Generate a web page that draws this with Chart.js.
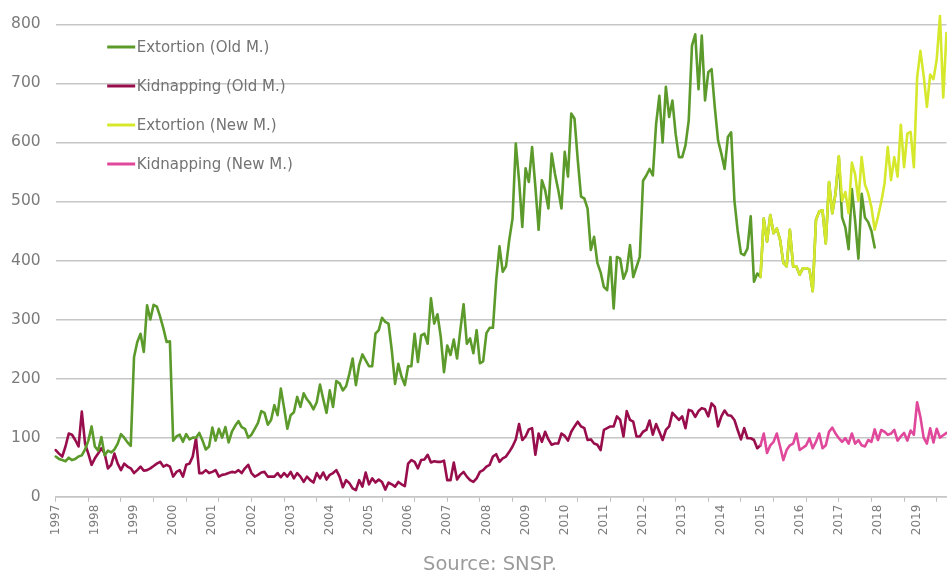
<!DOCTYPE html>
<html>
<head>
<meta charset="utf-8">
<script src="https://cdn.jsdelivr.net/npm/chart.js@4/dist/chart.umd.min.js"></script>
<style>
  html, body { margin: 0; padding: 0; background: #ffffff; }
  #wrap { position: relative; width: 947px; height: 575px; }
</style>
</head>
<body>
<div id="wrap"><canvas id="c" width="947" height="575"></canvas></div>
<script>
// ---------- DATA ----------
const years = ['1997','1998','1999','2000','2001','2002','2003','2004','2005','2006','2007','2008',
               '2009','2010','2011','2012','2013','2014','2015','2016','2017','2018','2019'];
const lastMonth = '2019-10';
const newMethodStart = '2015-01';

const seriesLabels = ['Extortion (Old M.)', 'Kidnapping (Old M.)', 'Extortion (New M.)', 'Kidnapping (New M.)'];

// Monthly values, Jan 1997 onwards
const extortionOld = [
  68,64,62,60,66,62,64,68,70,80,95,119,
  85,78,101,70,78,75,80,90,106,100,92,86,
  236,262,276,245,324,300,325,322,305,285,262,263,
  95,102,105,93,106,97,100,100,108,95,80,85,
  117,95,115,100,118,92,110,120,128,118,115,100,
  105,115,125,145,142,122,130,155,138,183,150,115,
  138,143,169,152,175,165,158,148,160,190,165,142,
  180,152,196,192,180,187,208,234,189,223,241,231,
  221,221,276,282,303,296,293,248,191,225,203,189,
  221,221,276,228,273,276,259,336,293,309,271,211,
  256,240,266,234,282,326,259,268,243,282,226,229,
  277,286,286,367,424,381,390,435,471,598,536,457,
  556,533,592,525,452,536,519,488,581,547,520,488,
  584,542,649,640,570,508,505,488,418,440,396,380,
  355,350,406,319,406,403,369,383,426,372,389,406,
  535,544,555,544,631,679,600,694,643,671,614,575,
  575,595,637,764,783,690,781,671,719,724,659,603,
  581,555,609,617,502,450,412,409,420,475,364,378,
  372,471,432,477,446,454,435,396,390,452,390,390,
  376,387,387,385,348,469,483,485,429,533,480,514,
  575,473,456,419,521,467,403,513,473,465,450,422
];

const kidnappingOld = [
  79,73,68,85,107,105,96,85,144,90,73,54,
  65,73,82,73,48,54,73,56,45,56,51,48,
  40,45,51,44,45,48,52,56,59,51,54,51,
  34,42,45,34,54,56,68,99,40,40,45,40,
  42,45,34,37,38,40,42,41,45,40,48,54,
  40,34,37,41,42,34,34,34,40,33,40,34,
  42,31,40,34,25,34,28,24,40,31,41,29,
  37,40,45,34,16,28,23,14,11,28,17,41,
  21,31,24,29,25,12,24,21,17,25,21,18,
  56,62,59,48,62,63,71,58,60,59,59,61,
  28,28,58,29,37,42,34,28,25,31,42,45,
  51,54,68,72,59,65,68,76,85,97,123,96,
  102,114,116,71,107,93,110,97,88,90,90,107,
  103,95,110,119,127,119,116,96,97,90,88,79,
  113,116,119,119,136,130,102,145,130,127,102,102,
  110,113,129,105,123,110,96,113,119,142,136,130,
  136,116,147,145,135,145,150,148,136,158,152,119,
  136,146,138,137,130,113,97,116,99,99,96,82,
  87
];

// New methodology, Jan 2015 onwards
const extortionNew = [
  372,471,432,477,446,454,435,396,390,452,390,390,
  376,387,387,385,348,469,483,485,429,533,480,514,
  577,501,516,480,566,546,501,575,529,514,490,452,
  474,499,530,592,536,575,542,630,558,615,618,558,
  710,755,713,660,715,707,740,814,676,785
];

const kidnappingNew = [
  87,107,74,87,93,107,85,62,79,87,90,107,
  79,83,87,99,82,93,107,82,87,110,117,107,
  99,93,99,90,107,90,96,87,85,96,93,114,
  96,113,110,105,107,113,95,102,108,95,112,105,
  160,135,100,90,116,92,115,100,104,108
];

const sourceText = 'Source: SNSP.';

// ---------- CATEGORIES ----------
const months = [];
for (const y of years) {
  for (let m = 1; m <= 12; m++) {
    const key = y + '-' + String(m).padStart(2, '0');
    months.push(key);
    if (key === lastMonth) break;
  }
}
const startIdx = months.indexOf(newMethodStart);
const padNew = arr => Array(startIdx).fill(null).concat(arr);

// ---------- STYLE ----------
const colors = ['#5b9a2b', '#980d4c', '#d6e82c', '#e0489b'];
const FONT = "'DejaVu Sans', 'Noto Sans', sans-serif";
const tickGray = '#7b7b7b';
const gridGray = '#c6c6c6';

const insideLegend = {
  id: 'insideLegend',
  afterDraw(chart) {
    const { ctx, chartArea } = chart;
    ctx.save();
    chart.data.datasets.forEach((ds, k) => {
      const y = chartArea.top + 22.7 + k * 39;
      const x0 = chartArea.left + 51.5;
      ctx.strokeStyle = ds.borderColor;
      ctx.lineWidth = 3;
      ctx.beginPath();
      ctx.moveTo(x0, y);
      ctx.lineTo(x0 + 28, y);
      ctx.stroke();
      ctx.fillStyle = '#737373';
      ctx.font = '15px ' + FONT;
      ctx.textAlign = 'left';
      ctx.textBaseline = 'middle';
      ctx.fillText(ds.label, x0 + 29.5, y + 1.5);
    });
    ctx.fillStyle = '#9b9b9b';
    ctx.font = '19.5px ' + FONT;
    ctx.textAlign = 'center';
    ctx.textBaseline = 'middle';
    ctx.fillText(sourceText, 490, 565);
    ctx.restore();
  }
};

const common = { pointRadius: 0, pointHoverRadius: 0, borderWidth: 2.6, tension: 0,
                 borderJoinStyle: 'round', borderCapStyle: 'round', clip: false, fill: false };

new Chart(document.getElementById('c'), {
  type: 'line',
  data: {
    labels: months,
    datasets: [
      Object.assign({ label: seriesLabels[0], data: extortionOld, borderColor: colors[0], order: 2 }, common),
      Object.assign({ label: seriesLabels[1], data: kidnappingOld, borderColor: colors[1], order: 2 }, common),
      Object.assign({ label: seriesLabels[2], data: padNew(extortionNew), borderColor: colors[2], order: 1 }, common),
      Object.assign({ label: seriesLabels[3], data: padNew(kidnappingNew), borderColor: colors[3], order: 1 }, common)
    ]
  },
  options: {
    responsive: false,
    devicePixelRatio: 1,
    animation: false,
    layout: { padding: { top: 23, right: 0.5, left: 0, bottom: 0 } },
    plugins: { legend: { display: false }, tooltip: { enabled: false }, title: { display: false } },
    scales: {
      x: {
        type: 'category',
        offset: false,
        grid: {
          display: true,
          drawOnChartArea: false,
          drawTicks: true,
          tickLength: 5,
          tickWidth: 1,
          tickColor: ctx => (ctx.index % 10 === 0 ? '#bdbdbd' : 'rgba(0,0,0,0)')
        },
        border: { display: true, color: gridGray, width: 1.5 },
        ticks: {
          autoSkip: false,
          minRotation: 90,
          maxRotation: 90,
          padding: 3,
          color: tickGray,
          font: { family: FONT, size: 12 },
          callback: (v, i) => (i % 12 === 0 ? years[i / 12] : '')
        },
        afterFit: s => { s.height = 78.3; s.paddingLeft = 0; s.paddingRight = 0; }
      },
      y: {
        min: 0,
        max: 800,
        ticks: { stepSize: 100, padding: 15, color: tickGray, font: { family: FONT, size: 15.5 } },
        grid: { color: gridGray, lineWidth: 1.5, drawTicks: false },
        border: { display: false },
        afterFit: s => { s.width = 55.7; }
      }
    }
  },
  plugins: [insideLegend]
});
</script>
</body>
</html>
